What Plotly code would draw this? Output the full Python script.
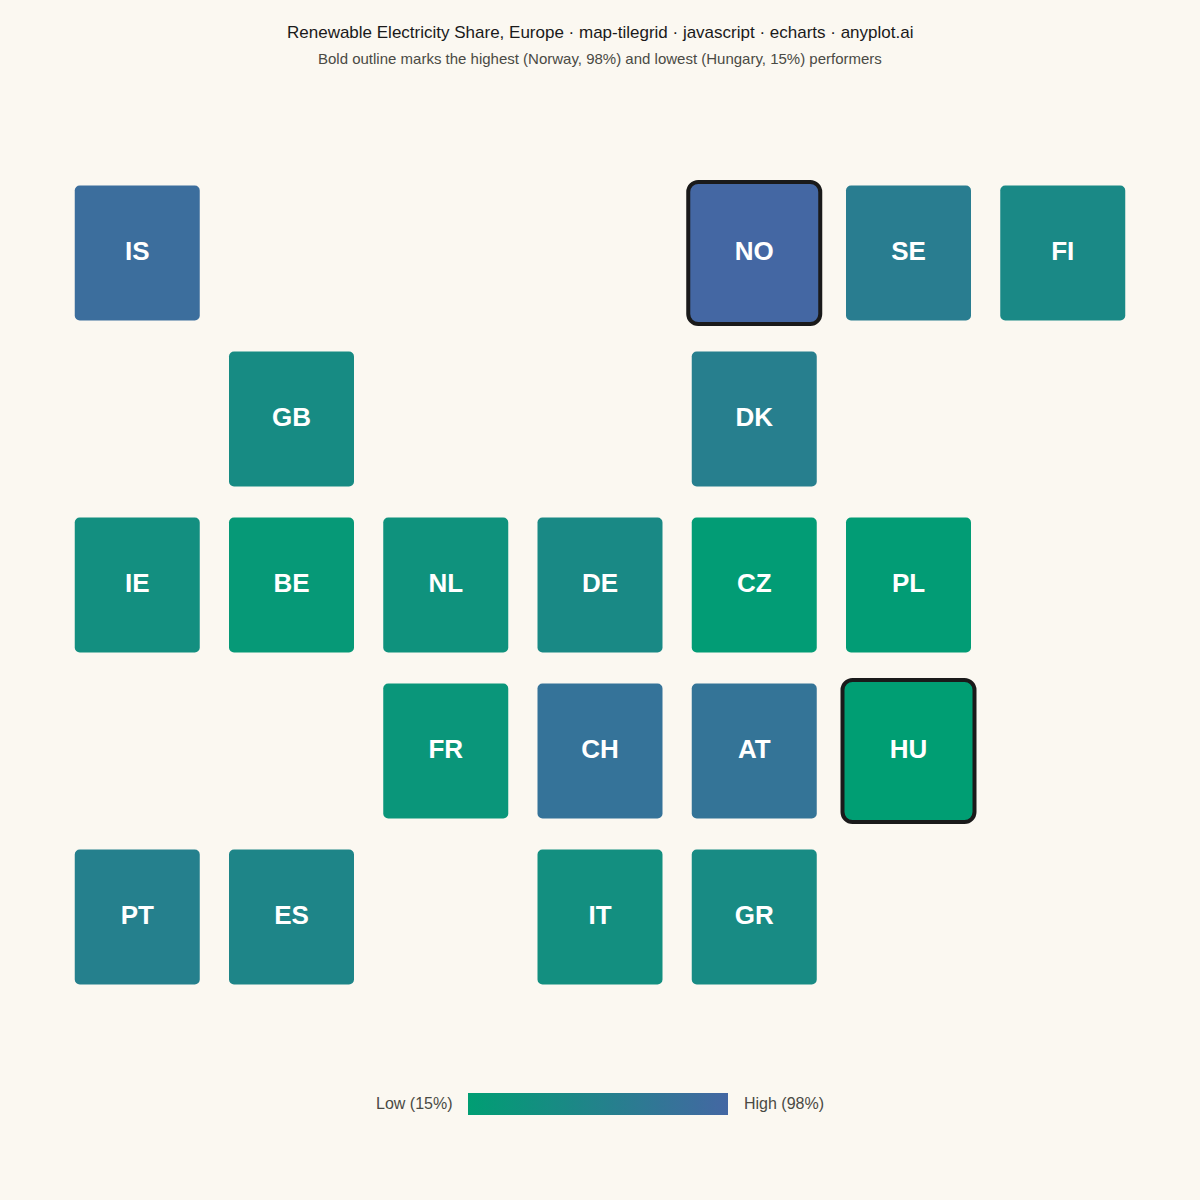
import plotly.graph_objects as go

TITLE = "Renewable Electricity Share, Europe · map-tilegrid · javascript · echarts · anyplot.ai"
SUBTITLE = "Bold outline marks the highest (Norway, 98%) and lowest (Hungary, 15%) performers"

codes = ["IS", "SE", "FI", "GB", "DK", "IE", "BE", "NL", "DE", "CZ", "PL", "FR", "CH", "AT", "PT", "ES", "IT", "GR"]
cols = [0, 5, 6, 1, 4, 0, 1, 2, 3, 4, 5, 2, 3, 4, 0, 1, 3, 4]
rows = [0, 0, 0, 1, 1, 2, 2, 2, 2, 2, 2, 3, 3, 3, 4, 4, 4, 4]
share = [88, 65, 47, 43, 62, 38, 22, 33, 46, 18, 18, 27, 80, 78, 60, 52, 38, 44]

top_codes = ["NO", "HU"]
top_cols = [4, 5]
top_rows = [0, 3]
top_share = [98, 15]

LOW, HIGH = 15, 98
LOW_COLOR, HIGH_COLOR = "#009E73", "#4467A3"
BG = "#FBF8F1"
INK = "#1A1A1A"
MUTED = "#4A4A44"

W = H = 1200
PITCH_X, PITCH_Y = 154.25, 166.0
X0, Y0 = 137.25, 253.0
TILE_W, TILE_H = 125.0, 135.0
TOP_W, TOP_H = 132.0, 142.0
FONT = "Liberation Sans, Arial, sans-serif"


def bars(c, r, v, w, h, radius, line_w):
    return go.Bar(
        x=c,
        y=[h / PITCH_Y] * len(c),
        base=[b - h / PITCH_Y / 2 for b in r],
        width=w / PITCH_X,
        customdata=v,
        marker=dict(
            color=v,
            coloraxis="coloraxis",
            cornerradius=radius,
            line=dict(color=INK, width=line_w),
        ),
        hoverinfo="skip",
        showlegend=False,
    )


def labels(c, r, t):
    return go.Scatter(
        x=c,
        y=r,
        text=t,
        mode="text",
        textposition="middle center",
        textfont=dict(family=FONT, size=26, color="#FFFFFF", weight="bold"),
        hoverinfo="skip",
        showlegend=False,
    )


fig = go.Figure([
    bars(cols, rows, share, TILE_W, TILE_H, 5, 0),
    bars(top_cols, top_rows, top_share, TOP_W, TOP_H, 10, 4),
    labels(cols + top_cols, rows + top_rows, codes + top_codes),
])

fig.update_layout(
    width=W,
    height=H,
    autosize=False,
    margin=dict(l=0, r=0, t=0, b=0),
    paper_bgcolor=BG,
    plot_bgcolor=BG,
    barmode="overlay",
    font=dict(family=FONT, color=MUTED),
    xaxis=dict(range=[-X0 / PITCH_X, (W - X0) / PITCH_X], visible=False, fixedrange=True),
    yaxis=dict(range=[(H - Y0) / PITCH_Y, -Y0 / PITCH_Y], visible=False, fixedrange=True),
    coloraxis=dict(
        cmin=LOW,
        cmax=HIGH,
        colorscale=[[0, LOW_COLOR], [1, HIGH_COLOR]],
        colorbar=dict(
            orientation="h",
            lenmode="pixels",
            len=260,
            thicknessmode="pixels",
            thickness=22,
            x=468 / W,
            xanchor="left",
            y=1 - 1115 / H,
            yanchor="bottom",
            xpad=0,
            ypad=0,
            outlinewidth=0,
            borderwidth=0,
            ticks="",
            showticklabels=False,
        ),
    ),
    annotations=[
        dict(text=TITLE, x=0.5, y=1 - 33 / H, xref="paper", yref="paper", showarrow=False,
             xanchor="center", yanchor="middle", font=dict(size=17, color=INK, family=FONT)),
        dict(text=SUBTITLE, x=0.5, y=1 - 58 / H, xref="paper", yref="paper", showarrow=False,
             xanchor="center", yanchor="middle", font=dict(size=15, color=MUTED, family=FONT)),
        dict(text="Low (15%)", x=454 / W, y=1 - 1103 / H, xref="paper", yref="paper", showarrow=False,
             xanchor="right", yanchor="middle", font=dict(size=16, color=MUTED, family=FONT)),
        dict(text="High (98%)", x=742 / W, y=1 - 1103 / H, xref="paper", yref="paper", showarrow=False,
             xanchor="left", yanchor="middle", font=dict(size=16, color=MUTED, family=FONT)),
    ],
)

fig.write_html(
    "out.html",
    config=dict(displayModeBar=False),
    post_script="document.body.style.margin='0';document.body.style.background='" + BG + "';",
)
